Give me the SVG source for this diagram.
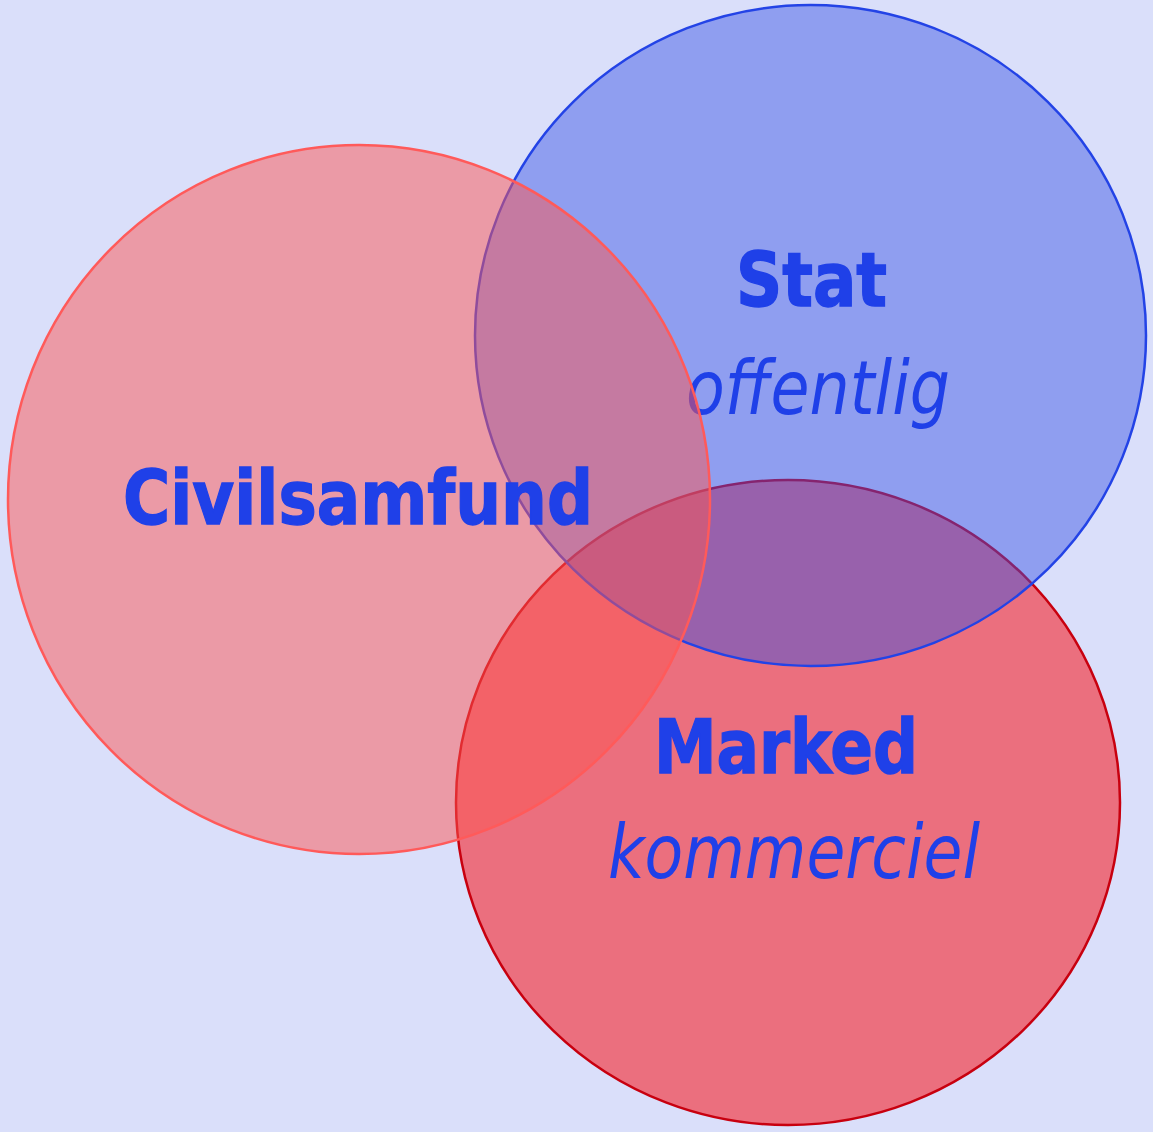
<svg xmlns="http://www.w3.org/2000/svg" width="1153" height="1132" viewBox="0 0 1153 1132">
<style>
.circ{stroke-width:2.5}
.lbl{font-family:"DejaVu Sans","Verdana",sans-serif;font-size:74px;fill:#1F40E8}
.b{font-weight:bold;stroke:#1F40E8;stroke-width:1.4}
.i{font-style:italic}
</style>
<rect x="0" y="0" width="1153" height="1132" fill="#DADFFA"/>
<g id="marked">
<ellipse class="circ" cx="788" cy="802.5" rx="332" ry="322.5" fill="#F23E49" fill-opacity="0.7" stroke="#C8000F"/>
<text class="lbl b" x="654" y="773" textLength="264" lengthAdjust="spacingAndGlyphs">Marked</text>
<text class="lbl i" x="608" y="878" textLength="372" lengthAdjust="spacingAndGlyphs">kommerciel</text>
</g>
<g id="stat">
<ellipse class="circ" cx="810.5" cy="335.5" rx="335.5" ry="330.5" fill="#334FE4" fill-opacity="0.45" stroke="#2343E6"/>
<text class="lbl b" x="736" y="306" textLength="151" lengthAdjust="spacingAndGlyphs">Stat</text>
<text class="lbl i" x="686" y="414" textLength="264" lengthAdjust="spacingAndGlyphs">offentlig</text>
</g>
<g id="civilsamfund">
<ellipse class="circ" cx="359" cy="499.5" rx="351" ry="354.5" fill="#FC5552" fill-opacity="0.5" stroke="#FF5A5A"/>
<text class="lbl b" x="123" y="524" textLength="470" lengthAdjust="spacingAndGlyphs">Civilsamfund</text>
</g>
</svg>
